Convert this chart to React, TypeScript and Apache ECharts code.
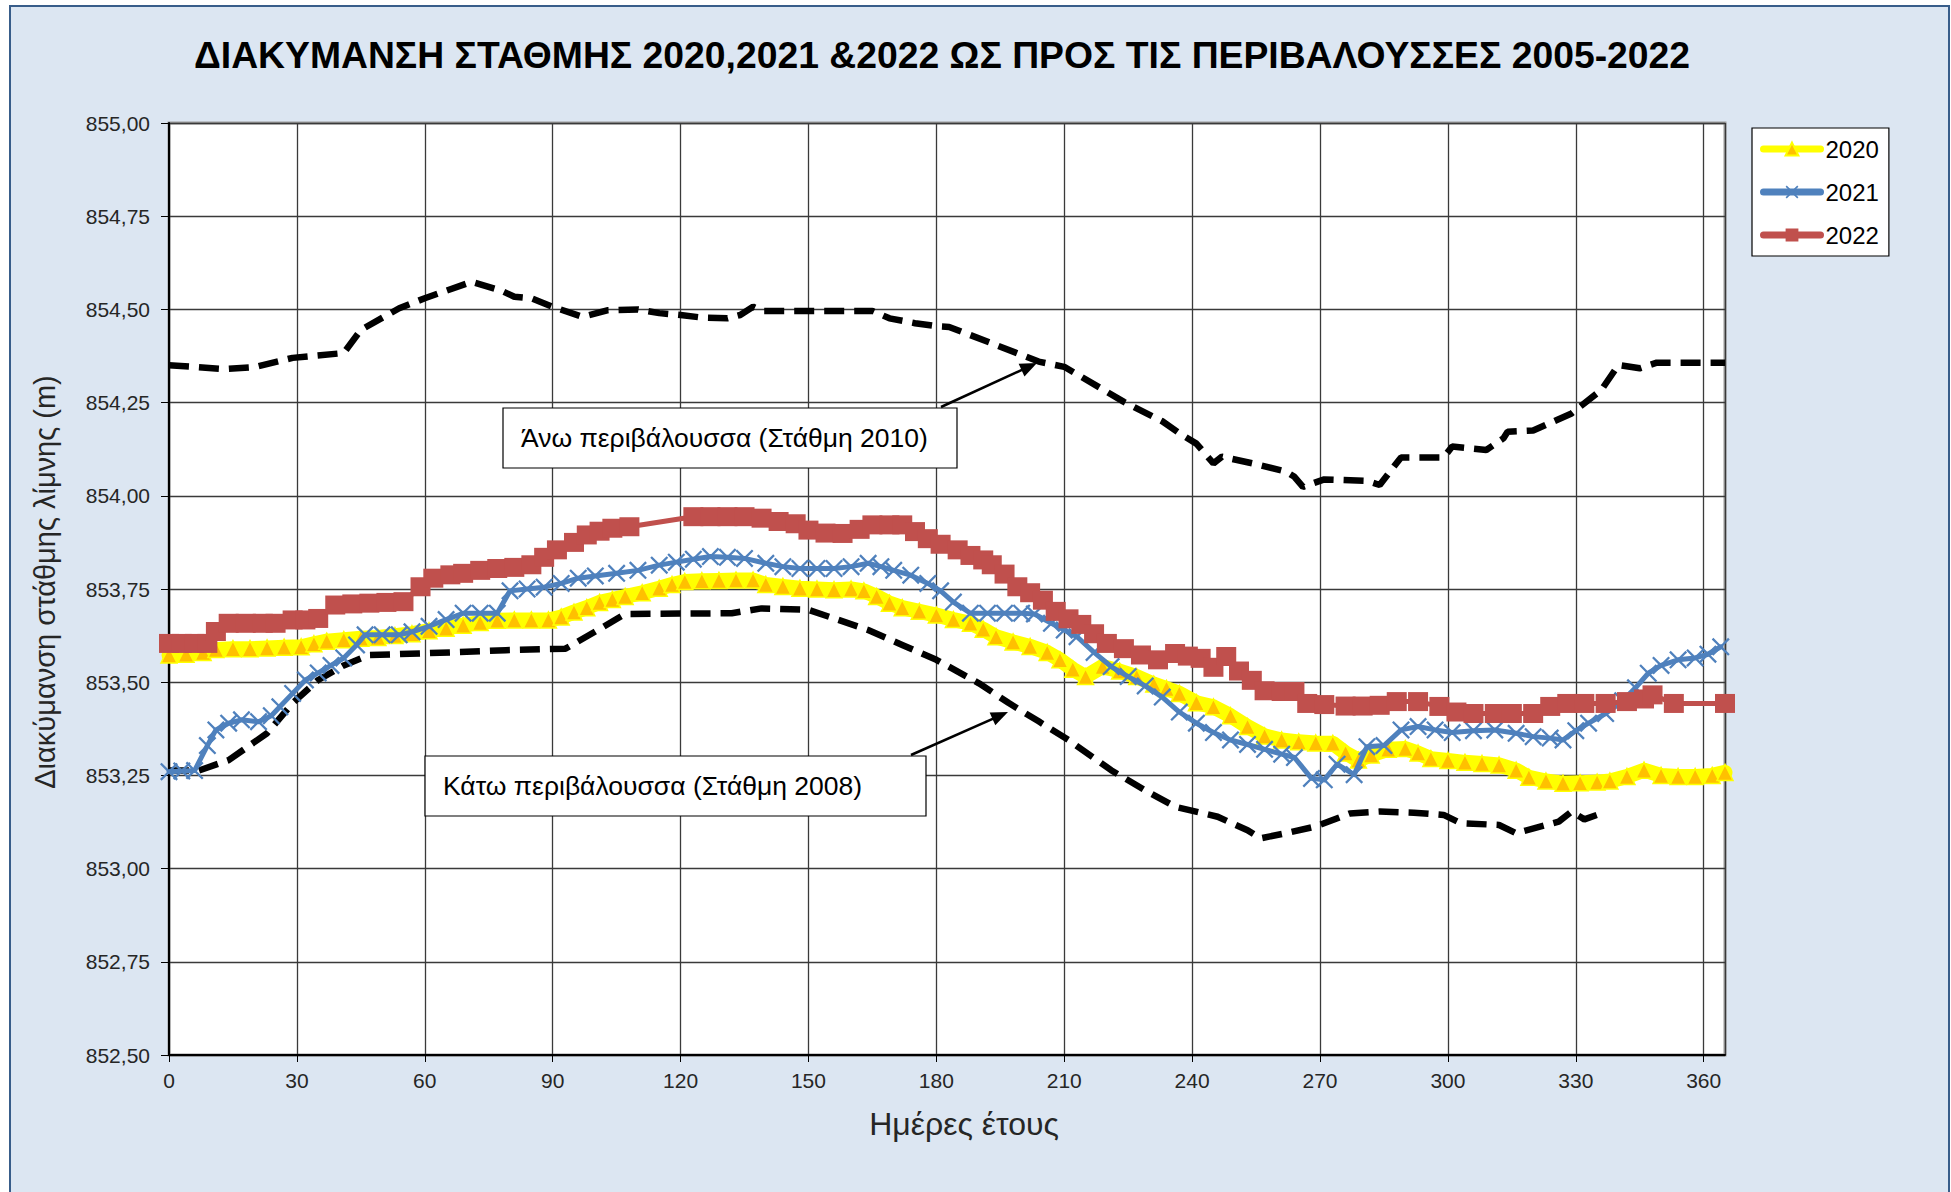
import React, { useEffect, useRef } from "react";
import * as echarts from "echarts";

const TITLE = "ΔΙΑΚΥΜΑΝΣΗ ΣΤΑΘΜΗΣ 2020,2021 &2022 ΩΣ ΠΡΟΣ ΤΙΣ ΠΕΡΙΒΑΛΟΥΣΣΕΣ 2005-2022";
const X_NAME = "Ημέρες έτους";
const Y_NAME = "Διακύμανση στάθμης λίμνης (m)";
const UPPER_LABEL = "Άνω περιβάλουσσα (Στάθμη 2010)";
const LOWER_LABEL = "Κάτω περιβάλουσσα (Στάθμη 2008)";

const legendNames = ["2020", "2021", "2022"];

// [day of year, level (m)]
const series2020: [number, number][] = [
  [0, 853.573], [4, 853.575], [8, 853.58], [11, 853.588], [15, 853.59], [19, 853.59], [23, 853.592],
  [27, 853.594], [31, 853.595], [34, 853.603], [37, 853.61], [41, 853.614], [45, 853.618], [49, 853.62],
  [53, 853.625], [57, 853.63], [61, 853.638], [65, 853.645], [69, 853.653], [73, 853.66], [77, 853.666],
  [81, 853.667], [85, 853.667], [89, 853.667], [92, 853.675], [95, 853.688], [98, 853.7], [101, 853.714],
  [104, 853.722], [107, 853.73], [111, 853.74], [115, 853.752], [118, 853.762], [121, 853.77], [125, 853.772],
  [129, 853.773], [133, 853.774], [137, 853.774], [140, 853.762], [144, 853.757], [148, 853.752], [152, 853.75],
  [156, 853.748], [160, 853.75], [163, 853.745], [166, 853.73], [169, 853.712], [172, 853.7], [176, 853.69],
  [180, 853.68], [184, 853.668], [188, 853.658], [191, 853.642], [194, 853.622], [198, 853.608], [202, 853.596],
  [206, 853.58], [209, 853.56], [212, 853.535], [215, 853.515], [219, 853.542], [223, 853.53], [227, 853.515],
  [231, 853.495], [234, 853.483], [237, 853.47], [241, 853.445], [245, 853.434], [249, 853.41], [253, 853.381],
  [257, 853.356], [261, 853.345], [265, 853.34], [269, 853.337], [273, 853.336], [276, 853.31], [279, 853.291],
  [282, 853.305], [286, 853.32], [290, 853.322], [293, 853.31], [296, 853.295], [300, 853.29], [304, 853.285],
  [308, 853.282], [312, 853.278], [316, 853.264], [319, 853.245], [323, 853.235], [327, 853.229], [331, 853.23],
  [335, 853.232], [338, 853.235], [342, 853.247], [346, 853.264], [350, 853.25], [354, 853.247], [358, 853.247],
  [362, 853.25], [365, 853.258],
];

const series2021: [number, number][] = [
  [0, 853.26], [3, 853.262], [6, 853.263], [9, 853.33], [11, 853.372], [14, 853.39], [17, 853.399],
  [21, 853.394], [24, 853.41], [26, 853.434], [29, 853.47], [32, 853.506], [35, 853.525], [38, 853.545],
  [41, 853.565], [44, 853.6], [46, 853.627], [50, 853.627], [54, 853.627], [57, 853.635], [61, 853.65],
  [65, 853.668], [69, 853.685], [73, 853.685], [77, 853.685], [80, 853.745], [84, 853.75], [88, 853.755],
  [92, 853.765], [96, 853.779], [100, 853.785], [105, 853.792], [110, 853.8], [115, 853.814], [119, 853.822],
  [123, 853.83], [127, 853.837], [131, 853.835], [135, 853.832], [140, 853.819], [144, 853.81], [148, 853.805],
  [152, 853.805], [156, 853.805], [160, 853.81], [164, 853.819], [167, 853.81], [170, 853.8], [174, 853.787],
  [178, 853.765], [181, 853.745], [184, 853.715], [188, 853.685], [192, 853.685], [196, 853.685], [200, 853.685],
  [203, 853.683], [207, 853.658], [210, 853.64], [213, 853.622], [217, 853.58], [221, 853.542], [225, 853.515],
  [229, 853.49], [233, 853.46], [237, 853.42], [241, 853.39], [245, 853.365], [249, 853.345], [253, 853.333],
  [257, 853.32], [261, 853.307], [264, 853.298], [268, 853.242], [271, 853.238], [274, 853.28], [278, 853.252],
  [281, 853.327], [285, 853.33], [289, 853.372], [293, 853.381], [297, 853.372], [301, 853.365], [306, 853.37],
  [311, 853.372], [316, 853.363], [320, 853.354], [324, 853.35], [327, 853.345], [330, 853.37], [333, 853.39],
  [337, 853.416], [341, 853.45], [344, 853.485], [347, 853.524], [350, 853.545], [354, 853.56], [358, 853.565],
  [361, 853.575], [364, 853.595],
];

const series2022: [number, number][] = [
  [0, 853.604], [3, 853.604], [6, 853.604], [9, 853.604], [11, 853.636], [14, 853.658], [18, 853.658],
  [22, 853.658], [25, 853.658], [29, 853.667], [32, 853.667], [35, 853.671], [39, 853.707], [43, 853.71],
  [47, 853.712], [51, 853.714], [55, 853.716], [59, 853.756], [62, 853.779], [66, 853.788], [69, 853.792],
  [73, 853.8], [77, 853.805], [81, 853.808], [85, 853.815], [88, 853.835], [91, 853.855], [95, 853.875],
  [98, 853.895], [101, 853.905], [104, 853.913], [108, 853.917], [123, 853.944], [127, 853.944], [131, 853.944],
  [135, 853.944], [139, 853.94], [143, 853.931], [147, 853.925], [150, 853.908], [154, 853.9], [158, 853.899],
  [162, 853.91], [165, 853.922], [169, 853.922], [172, 853.922], [175, 853.904], [178, 853.885], [181, 853.87],
  [185, 853.855], [188, 853.84], [191, 853.828], [193, 853.815], [196, 853.79], [199, 853.756], [202, 853.74],
  [205, 853.72], [208, 853.69], [211, 853.67], [214, 853.655], [217, 853.63], [220, 853.604], [224, 853.59],
  [228, 853.573], [232, 853.56], [236, 853.577], [239, 853.57], [242, 853.564], [245, 853.54], [248, 853.569],
  [251, 853.53], [254, 853.505], [257, 853.477], [261, 853.475], [264, 853.475], [267, 853.443], [271, 853.44],
  [276, 853.436], [280, 853.436], [284, 853.438], [288, 853.448], [293, 853.448], [298, 853.435], [302, 853.42],
  [306, 853.416], [311, 853.416], [315, 853.416], [320, 853.416], [324, 853.435], [328, 853.443], [332, 853.443],
  [337, 853.443], [342, 853.448], [346, 853.455], [348, 853.466], [353, 853.443], [365, 853.443],
];

const upperEnvelope: [number, number][] = [
  [0, 854.35], [7, 854.345], [13, 854.34], [20, 854.345], [29, 854.37], [41, 854.383], [45, 854.445],
  [54, 854.503], [60, 854.53], [71, 854.574], [78, 854.55], [81, 854.534], [85, 854.53], [90, 854.507],
  [97, 854.48], [103, 854.498], [110, 854.5], [115, 854.49], [120, 854.485], [125, 854.478], [131, 854.476],
  [134, 854.485], [137, 854.507], [139, 854.496], [150, 854.496], [160, 854.496], [165, 854.496], [169, 854.476],
  [175, 854.463], [180, 854.455], [183, 854.453], [193, 854.409], [204, 854.36], [210, 854.346], [224, 854.252],
  [233, 854.2], [237, 854.168], [241, 854.14], [245, 854.087], [247, 854.105], [255, 854.085], [262, 854.065],
  [264, 854.051], [266, 854.024], [271, 854.044], [281, 854.04], [284, 854.029], [289, 854.103], [299, 854.103],
  [301, 854.132], [309, 854.123], [313, 854.154], [314, 854.172], [320, 854.175], [329, 854.221], [336, 854.284],
  [340, 854.351], [345, 854.342], [349, 854.357], [365, 854.357],
];

const lowerEnvelope: [number, number][] = [
  [0, 853.263], [7, 853.263], [14, 853.291], [23, 853.363], [29, 853.444], [35, 853.506], [41, 853.545],
  [47, 853.573], [53, 853.575], [66, 853.58], [79, 853.586], [93, 853.59], [100, 853.636], [107, 853.683],
  [120, 853.684], [132, 853.685], [139, 853.698], [150, 853.694], [155, 853.675], [164, 853.64], [172, 853.6],
  [180, 853.56], [190, 853.497], [197, 853.444], [204, 853.395], [211, 853.345], [221, 853.264], [229, 853.21],
  [236, 853.166], [246, 853.139], [253, 853.103], [256, 853.081], [262, 853.095], [269, 853.113], [277, 853.148],
  [284, 853.153], [292, 853.15], [299, 853.144], [303, 853.122], [312, 853.117], [316, 853.095], [326, 853.126],
  [329, 853.153], [332, 853.132], [335, 853.144],
];

const X_MIN = 0;
const X_MAX = 365;
const X_STEP = 30;
const Y_MIN = 852.5;
const Y_MAX = 855;
const Y_STEP = 0.25;

const FONT = "'Liberation Sans', Arial, sans-serif";
const X_SYMBOL =
  "path://M0,0.9L0.9,0L5,4.1L9.1,0L10,0.9L5.9,5L10,9.1L9.1,10L5,5.9L0.9,10L0,9.1L4.1,5Z";

function arrowHead(tail: number[], tip: number[], len: number, half: number) {
  const dx = tip[0] - tail[0];
  const dy = tip[1] - tail[1];
  const l = Math.sqrt(dx * dx + dy * dy);
  const ux = dx / l;
  const uy = dy / l;
  const bx = tip[0] - ux * len;
  const by = tip[1] - uy * len;
  return [
    [tip[0], tip[1]],
    [bx - uy * half, by + ux * half],
    [bx + uy * half, by - ux * half],
  ];
}

function annotation(box: number[], label: string, tail: number[], tip: number[]) {
  const [x, y, w, h] = box;
  return [
    {
      type: "rect",
      z: 100,
      shape: { x, y, width: w, height: h },
      style: { fill: "#ffffff", stroke: "#000000", lineWidth: 1.2 },
    },
    {
      type: "text",
      z: 101,
      x: x + 18,
      y: y + h / 2,
      style: {
        text: label,
        font: `26.5px ${FONT}`,
        fill: "#000000",
        textVerticalAlign: "middle",
        verticalAlign: "middle",
      },
    },
    {
      type: "line",
      z: 101,
      shape: { x1: tail[0], y1: tail[1], x2: tip[0] - (tip[0] - tail[0]) * 0.1, y2: tip[1] - (tip[1] - tail[1]) * 0.1 },
      style: { stroke: "#000000", lineWidth: 2.5 },
    },
    {
      type: "polygon",
      z: 101,
      shape: { points: arrowHead(tail, tip, 17, 7) },
      style: { fill: "#000000" },
    },
  ];
}

export default function App() {
  const ref = useRef<HTMLDivElement>(null);

  useEffect(() => {
    if (!ref.current) return;
    const chart = echarts.init(ref.current, null, { renderer: "svg" });
    const gridLeft = 169;
    const gridTop = 123;
    const gridW = 1556;
    const gridH = 932;

    chart.setOption({
      animation: false,
      backgroundColor: "transparent",
      textStyle: { fontFamily: FONT },
      grid: {
        left: gridLeft,
        top: gridTop,
        width: gridW,
        height: gridH,
        show: true,
        backgroundColor: "#ffffff",
        borderColor: "#9a9a9a",
        borderWidth: 3,
      },
      legend: {
        data: legendNames,
        orient: "vertical",
        left: 1752,
        top: 128,
        itemWidth: 57,
        itemHeight: 16,
        itemGap: 19,
        padding: [9, 10, 9, 8],
        borderColor: "#000000",
        borderWidth: 1.2,
        backgroundColor: "#ffffff",
        lineStyle: { width: 7 },
        textStyle: { fontSize: 24, color: "#000000", fontFamily: FONT },
      },
      xAxis: {
        type: "value",
        min: X_MIN,
        max: X_MAX,
        interval: X_STEP,
        axisLine: { show: true, lineStyle: { color: "#000000", width: 2 } },
        axisTick: { show: true, inside: false, length: 7, lineStyle: { color: "#000000", width: 1 } },
        axisLabel: {
          showMaxLabel: false,
          margin: 15,
          fontSize: 21,
          color: "#262626",
          fontFamily: FONT,
        },
        splitLine: { show: true, lineStyle: { color: "#3a3a3a", width: 1.3 } },
      },
      yAxis: {
        type: "value",
        min: Y_MIN,
        max: Y_MAX,
        interval: Y_STEP,
        axisLine: { show: true, lineStyle: { color: "#000000", width: 2 } },
        axisTick: { show: true, inside: false, length: 8, lineStyle: { color: "#000000", width: 1 } },
        axisLabel: {
          margin: 19,
          fontSize: 21,
          color: "#262626",
          fontFamily: FONT,
          formatter: (v: number) => v.toFixed(2).replace(".", ","),
        },
        splitLine: { show: true, lineStyle: { color: "#3a3a3a", width: 1.3 } },
      },
      graphic: [
        {
          type: "text",
          x: 942,
          y: 55,
          style: {
            text: TITLE,
            font: `bold 37.3px ${FONT}`,
            fill: "#000000",
            textAlign: "center",
            textVerticalAlign: "middle",
            verticalAlign: "middle",
          },
        },
        {
          type: "text",
          x: 964,
          y: 1124,
          style: {
            text: X_NAME,
            font: `32px ${FONT}`,
            fill: "#262626",
            textAlign: "center",
            textVerticalAlign: "middle",
            verticalAlign: "middle",
          },
        },
        {
          type: "text",
          x: 45,
          y: 582,
          rotation: Math.PI / 2,
          style: {
            text: Y_NAME,
            font: `29px ${FONT}`,
            fill: "#262626",
            textAlign: "center",
            textVerticalAlign: "middle",
            verticalAlign: "middle",
          },
        },
        ...annotation([503, 408, 454, 60], UPPER_LABEL, [941, 407], [1037, 363]),
        ...annotation([425, 756, 501, 60], LOWER_LABEL, [911, 755], [1008, 712]),
      ],
      series: [
        {
          name: "lower",
          type: "line",
          data: lowerEnvelope,
          symbol: "none",
          z: 2,
          lineStyle: { color: "#000000", width: 6.5, type: [20, 10], cap: "butt" },
        },
        {
          name: "upper",
          type: "line",
          data: upperEnvelope,
          symbol: "none",
          z: 2,
          lineStyle: { color: "#000000", width: 6.5, type: [20, 10], cap: "butt" },
        },
        {
          name: "2020",
          type: "line",
          data: series2020,
          symbol: "triangle",
          symbolSize: 16,
          z: 3,
          lineStyle: { color: "#FFFF00", width: 15, cap: "round", join: "round" },
          itemStyle: { color: "#FFC000", borderColor: "#FFFF00", borderWidth: 1.5 },
        },
        {
          name: "2021",
          type: "line",
          data: series2021,
          symbol: X_SYMBOL,
          symbolSize: 18,
          z: 4,
          lineStyle: { color: "#4F81BD", width: 5, cap: "round", join: "round" },
          itemStyle: { color: "#4F81BD" },
        },
        {
          name: "2022",
          type: "line",
          data: series2022,
          symbol: "rect",
          symbolSize: [20, 19],
          z: 5,
          lineStyle: { color: "#C0504D", width: 5, cap: "round", join: "round" },
          itemStyle: { color: "#C0504D" },
        },
      ],
    });
    return () => chart.dispose();
  }, []);

  return (
    <div
      style={{
        position: "fixed",
        left: 0,
        top: 0,
        width: 1951,
        height: 1192,
        overflow: "hidden",
        background: "#ffffff",
      }}
    >
      <div
        style={{
          position: "absolute",
          left: 9,
          top: 5,
          width: 1937,
          height: 1200,
          background: "#DCE6F2",
          border: "2px solid #385D8A",
        }}
      />
      <div ref={ref} style={{ position: "absolute", left: 0, top: 0, width: 1951, height: 1192 }} />
    </div>
  );
}
